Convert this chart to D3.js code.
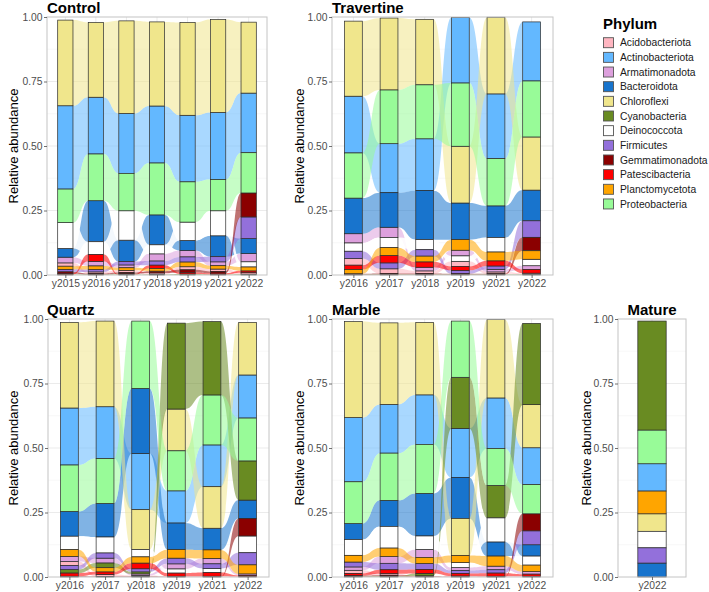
<!DOCTYPE html>
<html><head><meta charset="utf-8">
<script src="https://cdn.jsdelivr.net/npm/d3@7"></script>
<style>body{margin:0;background:#fff} svg{display:block;font-family:"Liberation Sans",Arial,sans-serif}</style>
</head><body><svg id="c" width="709" height="592"></svg>
<script>
// ---------- data ----------
const phyla = ["Acidobacteriota","Actinobacteriota","Armatimonadota","Bacteroidota","Chloroflexi","Cyanobacteria","Deinococcota","Firmicutes","Gemmatimonadota","Patescibacteria","Planctomycetota","Proteobacteria"];
const phylumColors = ["#FFB6C1","#63B8FF","#DDA0DD","#1874CD","#F0E68C","#698B22","#FFFFFF","#9370DB","#8B0000","#FF0000","#FFA500","#98FB98"];
const yTicks = [0, 0.25, 0.5, 0.75, 1];
const yTickLabels = ["0.00","0.25","0.50","0.75","1.00"];

// each row = one year, columns in the order of `phyla`
const controlYears = ["y2015","y2016","y2017","y2018","y2019","y2021","y2022"];
const controlValues = [
  [0.013,0.323,0.022,0.034,0.332,0.002,0.100,0.010,0.007,0.003,0.012,0.130],
  [0.006,0.220,0.018,0.159,0.290,0.002,0.050,0.009,0.004,0.026,0.014,0.181],
  [0.008,0.232,0.011,0.083,0.359,0.003,0.114,0.013,0.005,0.002,0.010,0.145],
  [0.006,0.221,0.028,0.116,0.326,0.002,0.035,0.016,0.007,0.013,0.010,0.201],
  [0.012,0.258,0.025,0.039,0.360,0.004,0.071,0.020,0.010,0.006,0.018,0.156],
  [0.009,0.260,0.015,0.081,0.360,0.002,0.097,0.020,0.007,0.005,0.013,0.121],
  [0.006,0.231,0.032,0.058,0.275,0.003,0.020,0.084,0.093,0.007,0.015,0.156]
];
const travertineYears = ["y2016","y2017","y2018","y2019","y2021","y2022"];
const travertineValues = [
  [0.026,0.220,0.036,0.138,0.291,0.002,0.032,0.028,0.003,0.017,0.016,0.175],
  [0.018,0.190,0.040,0.134,0.279,0.002,0.039,0.023,0.004,0.029,0.030,0.208],
  [0.010,0.201,0.014,0.190,0.254,0.002,0.039,0.025,0.004,0.021,0.022,0.209],
  [0.020,0.254,0.022,0.142,0.220,0.002,0.021,0.013,0.003,0.015,0.041,0.245],
  [0.007,0.251,0.010,0.123,0.297,0.002,0.056,0.013,0.003,0.020,0.034,0.183],
  [0.005,0.229,0.015,0.119,0.206,0.002,0.025,0.064,0.052,0.014,0.033,0.217]
];
const quartzYears = ["y2016","y2017","y2018","y2019","y2021","y2022"];
const quartzValues = [
  [0.016,0.221,0.020,0.096,0.332,0.014,0.052,0.015,0.003,0.012,0.026,0.180],
  [0.008,0.201,0.019,0.130,0.332,0.018,0.062,0.020,0.002,0.010,0.016,0.174],
  [0.004,0.218,0.006,0.252,0.155,0.008,0.028,0.012,0.002,0.022,0.024,0.261],
  [0.002,0.125,0.020,0.103,0.162,0.333,0.016,0.022,0.001,0.012,0.033,0.155],
  [0.002,0.162,0.021,0.084,0.161,0.285,0.016,0.018,0.001,0.014,0.033,0.193],
  [0.002,0.167,0.006,0.071,0.204,0.152,0.065,0.047,0.068,0.004,0.035,0.166]
];
const marbleYears = ["y2016","y2017","y2018","y2019","y2021","y2022"];
const marbleValues = [
  [0.012,0.249,0.013,0.062,0.372,0.002,0.061,0.019,0.004,0.008,0.026,0.162],
  [0.006,0.189,0.026,0.101,0.316,0.003,0.084,0.025,0.004,0.015,0.033,0.183],
  [0.002,0.192,0.031,0.165,0.281,0.010,0.052,0.023,0.002,0.015,0.024,0.190],
  [0.003,0.190,0.012,0.159,0.144,0.198,0.019,0.011,0.001,0.010,0.027,0.218],
  [0.002,0.196,0.014,0.055,0.304,0.126,0.093,0.013,0.001,0.012,0.039,0.143],
  [0.003,0.143,0.010,0.044,0.167,0.315,0.035,0.054,0.066,0.008,0.025,0.113]
];
const matureYears = ["y2022"];
const matureValues = [
  [0,0.106,0,0.054,0.068,0.423,0.064,0.059,0,0,0.088,0.130]
];

// ---------- drawing ----------
const svg = d3.select("#c");
svg.append("rect").attr("width",709).attr("height",592).attr("fill","#fff");

const panels = [
  {title:"Control",    years:controlYears,    values:controlValues,    x0:47,  x1:267, y0:17,  y1:275, tx:47,  ax:18},
  {title:"Travertine", years:travertineYears, values:travertineValues, x0:332, x1:553, y0:17,  y1:275, tx:332, ax:304},
  {title:"Quartz",     years:quartzYears,     values:quartzValues,     x0:48,  x1:269, y0:319, y1:577, tx:47,  ax:18},
  {title:"Marble",     years:marbleYears,     values:marbleValues,     x0:332, x1:553, y0:319, y1:577, tx:332, ax:304},
  {title:"Mature",     years:matureYears,     values:matureValues,     x0:618, x1:686, y0:319, y1:577, center:true, ax:591}
];

panels.forEach(p => {
  const g = svg.append("g");
  const x = d3.scalePoint().domain(p.years).range([p.x0, p.x1]).padding(0.6);
  const y = d3.scaleLinear().domain([0,1]).range([p.y1, p.y0]);
  const bw = x.step() * 0.5;

  // grid
  [0.125,0.375,0.625,0.875].forEach(v => g.append("line")
    .attr("x1",p.x0).attr("x2",p.x1).attr("y1",y(v)).attr("y2",y(v))
    .attr("stroke","#F3F3F3").attr("stroke-width",0.6));
  [0.25,0.5,0.75].forEach(v => g.append("line")
    .attr("x1",p.x0).attr("x2",p.x1).attr("y1",y(v)).attr("y2",y(v))
    .attr("stroke","#EBEBEB").attr("stroke-width",1));
  p.years.forEach(yr => g.append("line")
    .attr("x1",x(yr)).attr("x2",x(yr)).attr("y1",p.y0).attr("y2",p.y1)
    .attr("stroke","#EBEBEB").attr("stroke-width",1));

  // stacks (ascending from the bottom)
  const stacks = p.years.map((yr,i) => {
    const vals = p.values[i];
    const idx = phyla.map((_,k)=>k).filter(k => vals[k] > 0).sort((a,b) => vals[a]-vals[b] || a-b);
    let c = 0; const seg = {};
    idx.forEach(k => { seg[k] = [c, c+vals[k]]; c += vals[k]; });
    return seg;
  });

  // flows
  const fg = g.append("g");
  for (let i = 0; i < p.years.length-1; i++) {
    const xa = x(p.years[i]) + bw/2, xb = x(p.years[i+1]) - bw/2, xm = (xa+xb)/2;
    phyla.forEach((ph,k) => {
      const a = stacks[i][k], b = stacks[i+1][k];
      if (!a || !b) return;
      const path = d3.path();
      path.moveTo(xa, y(a[1]));
      path.bezierCurveTo(xm, y(a[1]), xm, y(b[1]), xb, y(b[1]));
      path.lineTo(xb, y(b[0]));
      path.bezierCurveTo(xm, y(b[0]), xm, y(a[0]), xa, y(a[0]));
      path.closePath();
      fg.append("path").attr("d", path.toString())
        .attr("fill", phylumColors[k]).attr("fill-opacity", ph==="Deinococcota"?0.9:0.55)
        .attr("stroke","none");
    });
  }

  // bars
  p.years.forEach((yr,i) => {
    Object.keys(stacks[i]).forEach(k => {
      const s = stacks[i][k];
      g.append("rect").attr("x", x(yr)-bw/2).attr("y", y(s[1]))
        .attr("width", bw).attr("height", y(s[0]) - y(s[1]))
        .attr("fill", phylumColors[k]).attr("stroke","#2a2a2a").attr("stroke-width",0.7);
    });
  });

  // border
  g.append("rect").attr("x",p.x0).attr("y",p.y0).attr("width",p.x1-p.x0).attr("height",p.y1-p.y0)
    .attr("fill","none").attr("stroke","#C4C4C4").attr("stroke-width",1);

  // axes
  const ya = g.append("g").attr("transform",`translate(${p.x0},0)`)
    .call(d3.axisLeft(y).tickValues(yTicks).tickFormat((d,i)=>yTickLabels[i]).tickSize(3).tickPadding(1.5));
  const xaG = g.append("g").attr("transform",`translate(0,${p.y1})`)
    .call(d3.axisBottom(x).tickSize(3).tickPadding(1.5));
  [ya, xaG].forEach(a => {
    a.select(".domain").remove();
    a.selectAll(".tick line").attr("stroke","#4D4D4D").attr("stroke-width",0.8);
    a.selectAll(".tick text").attr("fill","#4D4D4D").style("font-size","10.3px").style("font-family","Liberation Sans, Arial, sans-serif");
  });

  // titles
  g.append("text").text(p.title)
    .attr("x", p.center ? (p.x0+p.x1)/2 : p.tx).attr("y", p.y0 - 4.5)
    .attr("text-anchor", p.center ? "middle" : "start")
    .style("font-weight","bold").style("font-size","15px").attr("fill","#000");
  g.append("text").text("Relative abundance")
    .attr("transform",`translate(${p.ax},${(p.y0+p.y1)/2}) rotate(-90)`)
    .attr("text-anchor","middle").style("font-size","13px").attr("fill","#000");
});

// legend
const lg = svg.append("g");
lg.append("text").text("Phylum").attr("x",603).attr("y",29)
  .style("font-weight","bold").style("font-size","15px");
phyla.forEach((ph,k) => {
  const cy = 42.7 + k*14.66;
  lg.append("rect").attr("x",603.5).attr("y",cy-5).attr("width",10).attr("height",10)
    .attr("fill",phylumColors[k]).attr("stroke","#555").attr("stroke-width",0.9);
  lg.append("text").text(ph).attr("x",620).attr("y",cy+3.7)
    .style("font-size","10.3px").attr("fill","#1a1a1a");
});
</script></body></html>
